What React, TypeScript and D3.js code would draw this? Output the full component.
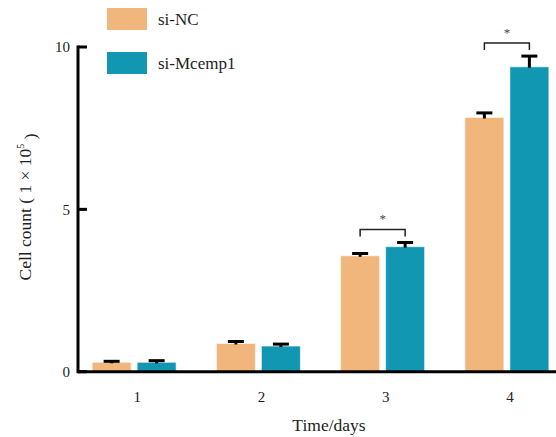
// Cell count bar chart — grouped bars with upper error bars and significance brackets.
import { useEffect, useRef } from "react";
import * as d3 from "d3";

const days = ["1", "2", "3", "4"];
const series = ["si-NC", "si-Mcemp1"];
const colors = ["#F1B67C", "#1297B2"];
const siNC = [0.29, 0.87, 3.57, 7.83];
const siNCErr = [0.03, 0.06, 0.07, 0.14];
const siMcemp1 = [0.29, 0.79, 3.85, 9.39];
const siMcemp1Err = [0.05, 0.06, 0.13, 0.33];
const yTicks = [0, 5, 10];
const sigDays = ["3", "4"];

const W = 556;
const H = 437;
const FONT = "'Liberation Serif', 'DejaVu Serif', serif";

export default function App() {
  const ref = useRef<SVGSVGElement | null>(null);

  useEffect(() => {
    if (!ref.current) return;
    const svg = d3.select(ref.current);
    svg.selectAll("*").remove();

    const axisX = 78;
    const baseY = 371.7;

    const x = d3.scaleBand<string>().domain(days).range([72, 569]).padding(0);
    const xs = d3.scaleBand<string>().domain(series).range([-42, 42]).paddingInner(6 / 45);
    const y = d3.scaleLinear().domain([0, 10]).range([baseY, 47]);

    const values = [siNC, siMcemp1];
    const errs = [siNCErr, siMcemp1Err];

    // bars
    series.forEach((s, si) => {
      svg.append("g")
        .selectAll("rect")
        .data(days)
        .join("rect")
        .attr("x", (d) => x(d)! + x.bandwidth() / 2 + xs(s)!)
        .attr("y", (d, i) => y(values[si][i]))
        .attr("width", xs.bandwidth())
        .attr("height", (d, i) => baseY - y(values[si][i]))
        .attr("fill", colors[si])
        .attr("stroke", "#ffffff")
        .attr("stroke-opacity", 0.6)
        .attr("stroke-width", 1);
    });

    // error bars (upper only)
    series.forEach((s, si) => {
      days.forEach((d, i) => {
        const cx = x(d)! + x.bandwidth() / 2 + xs(s)! + xs.bandwidth() / 2;
        const top = y(values[si][i] + errs[si][i]);
        const bot = y(values[si][i]);
        svg.append("line")
          .attr("x1", cx).attr("x2", cx)
          .attr("y1", top).attr("y2", bot + 1)
          .attr("stroke", "#000").attr("stroke-width", 3);
        svg.append("line")
          .attr("x1", cx - 8).attr("x2", cx + 8)
          .attr("y1", top).attr("y2", top)
          .attr("stroke", "#000").attr("stroke-width", 3);
      });
    });

    // significance brackets
    sigDays.forEach((d) => {
      const i = days.indexOf(d);
      const x1 = x(d)! + x.bandwidth() / 2 + xs(series[0])! + xs.bandwidth() / 2;
      const x2 = x(d)! + x.bandwidth() / 2 + xs(series[1])! + xs.bandwidth() / 2;
      const peak = Math.max(siNC[i] + siNCErr[i], siMcemp1[i] + siMcemp1Err[i]);
      const by = y(peak) - 13;
      svg.append("path")
        .attr("d", `M${x1},${by + 7}V${by}H${x2}V${by + 7}`)
        .attr("fill", "none")
        .attr("stroke", "#222")
        .attr("stroke-width", 1.5);
      svg.append("text")
        .attr("x", (x1 + x2) / 2)
        .attr("y", by - 6)
        .attr("text-anchor", "middle")
        .attr("font-family", FONT)
        .attr("font-size", 13)
        .attr("fill", "#444")
        .text("*");
    });

    // axes
    svg.append("line")
      .attr("x1", axisX).attr("x2", W)
      .attr("y1", baseY).attr("y2", baseY)
      .attr("stroke", "#000").attr("stroke-width", 3);
    svg.append("line")
      .attr("x1", axisX).attr("x2", axisX)
      .attr("y1", y(10) - 1.5).attr("y2", baseY + 1.5)
      .attr("stroke", "#000").attr("stroke-width", 3);

    yTicks.forEach((t) => {
      svg.append("line")
        .attr("x1", axisX).attr("x2", axisX + 9)
        .attr("y1", y(t)).attr("y2", y(t))
        .attr("stroke", "#000").attr("stroke-width", 3);
      svg.append("text")
        .attr("x", 70)
        .attr("y", y(t))
        .attr("dy", "0.35em")
        .attr("text-anchor", "end")
        .attr("font-family", FONT)
        .attr("font-size", 15)
        .attr("fill", "#222")
        .text(t);
    });

    days.forEach((d) => {
      svg.append("text")
        .attr("x", x(d)! + x.bandwidth() / 2 + 3)
        .attr("y", 397)
        .attr("dy", "0.35em")
        .attr("text-anchor", "middle")
        .attr("font-family", FONT)
        .attr("font-size", 15)
        .attr("fill", "#222")
        .text(d);
    });

    svg.append("text")
      .attr("x", 329)
      .attr("y", 425)
      .attr("dy", "0.35em")
      .attr("text-anchor", "middle")
      .attr("font-family", FONT)
      .attr("font-size", 17.5)
      .attr("fill", "#222")
      .text("Time/days");

    const yt = svg.append("text")
      .attr("transform", "translate(25,207) rotate(-90)")
      .attr("dy", "0.35em")
      .attr("text-anchor", "middle")
      .attr("font-family", FONT)
      .attr("font-size", 17.5)
      .attr("fill", "#222");
    yt.append("tspan").text("Cell count ( 1 × 10");
    yt.append("tspan").attr("font-size", 10).attr("dy", "-0.7em").text("5");
    yt.append("tspan").attr("dy", "0.7em").text(" )");

    // legend
    series.forEach((s, si) => {
      const ly = 8 + si * 44;
      svg.append("rect")
        .attr("x", 107).attr("y", ly)
        .attr("width", 40).attr("height", 22)
        .attr("fill", colors[si]);
      svg.append("text")
        .attr("x", 158)
        .attr("y", ly + 11)
        .attr("dy", "0.35em")
        .attr("font-family", FONT)
        .attr("font-size", 17)
        .attr("fill", "#222")
        .text(s);
    });
  }, []);

  return (
    <svg
      ref={ref}
      width={W}
      height={H}
      style={{ position: "absolute", left: 0, top: 0, background: "#fff" }}
    />
  );
}
